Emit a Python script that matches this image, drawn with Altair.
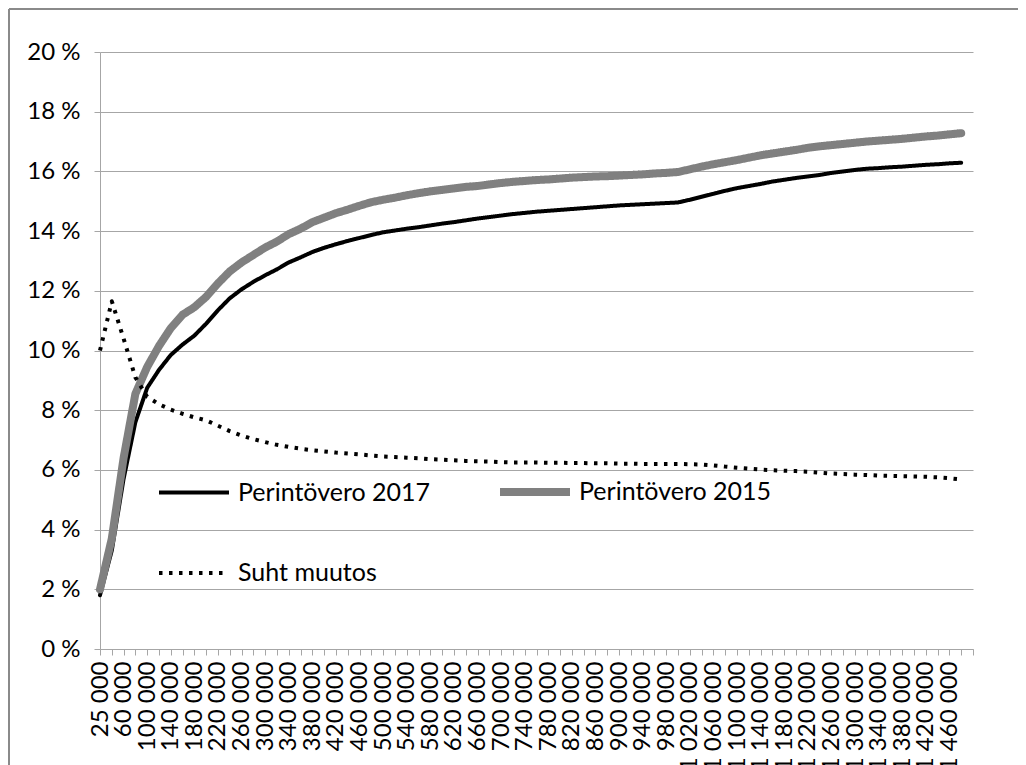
import json
import altair as alt
import pandas as pd

# x categories (inheritance amount, EUR)
amounts = [25000, 40000] + list(range(60000, 1500001, 20000))
cat_labels = [f"{a:,}".replace(",", " ") for a in amounts]
shown_labels = cat_labels[0:73:2]

series_names = ["Perintövero 2017", "Perintövero 2015", "Suht muutos"]
legend_order = ["Perintövero 2017", "Suht muutos", "Perintövero 2015"]

# values in percent, one per category (last category has no data)
vero_2017 = [1.8, 3.3, 5.7, 7.6, 8.75, 9.35, 9.85, 10.2, 10.5, 10.9,
             11.35, 11.75, 12.05, 12.3, 12.52, 12.72, 12.95, 13.12, 13.3, 13.44,
             13.56, 13.67, 13.77, 13.87, 13.96, 14.02, 14.08, 14.13, 14.19, 14.25,
             14.3, 14.36, 14.42, 14.47, 14.52, 14.57, 14.61, 14.65, 14.68, 14.71,
             14.74, 14.77, 14.8, 14.83, 14.86, 14.88, 14.9, 14.92, 14.94, 14.96,
             15.05, 15.15, 15.25, 15.35, 15.44, 15.51, 15.58, 15.66, 15.72, 15.78,
             15.83, 15.88, 15.95, 16.0, 16.05, 16.09, 16.11, 16.14, 16.16, 16.19,
             16.22, 16.24, 16.27, 16.29]

vero_2015 = [2.0, 3.7, 6.4, 8.55, 9.45, 10.15, 10.75, 11.2, 11.45, 11.8,
             12.25, 12.65, 12.95, 13.2, 13.45, 13.65, 13.9, 14.08, 14.3, 14.45,
             14.6, 14.72, 14.85, 14.97, 15.05, 15.12, 15.2, 15.27, 15.33, 15.38,
             15.43, 15.48, 15.51, 15.56, 15.61, 15.65, 15.68, 15.71, 15.73, 15.76,
             15.79, 15.81, 15.83, 15.84, 15.86, 15.88, 15.9, 15.93, 15.95, 15.98,
             16.07, 16.16, 16.24, 16.31, 16.38, 16.46, 16.54, 16.6, 16.66, 16.72,
             16.79, 16.84, 16.88, 16.92, 16.96, 17.0, 17.03, 17.06, 17.09, 17.13,
             17.17, 17.2, 17.24, 17.28]

suht_muutos = [10.0, 11.65, 10.4, 9.1, 8.45, 8.2, 8.02, 7.88, 7.76, 7.66,
               7.48, 7.3, 7.15, 7.03, 6.93, 6.84, 6.77, 6.71, 6.66, 6.62,
               6.58, 6.55, 6.52, 6.48, 6.45, 6.43, 6.41, 6.39, 6.36, 6.34,
               6.32, 6.3, 6.29, 6.28, 6.26, 6.25, 6.25, 6.25, 6.24, 6.24,
               6.23, 6.23, 6.22, 6.22, 6.21, 6.21, 6.2, 6.2, 6.2, 6.2,
               6.19, 6.18, 6.15, 6.11, 6.07, 6.04, 6.01, 5.99, 5.97, 5.96,
               5.94, 5.91, 5.88, 5.86, 5.84, 5.83, 5.81, 5.8, 5.79, 5.78,
               5.77, 5.75, 5.72, 5.68]

y_ticks = list(range(0, 21, 2))

rows = []
for name, vals in zip(series_names, [vero_2017, vero_2015, suht_muutos]):
    for i, v in enumerate(vals):
        rows.append({"amount": cat_labels[i], "series": name, "value": v, "order": i})
df = pd.DataFrame(rows)

FONT = "Lato"
GRID = "#a6a6a6"

label_expr = "indexof(" + json.dumps(shown_labels, ensure_ascii=False) + ", datum.value) >= 0 ? datum.value : ''"


def legend():
    return alt.Legend(orient="none", legendX=55, legendY=401, columns=2,
                      title=None, symbolType="stroke", symbolSize=4900,
                      labelFont=FONT, labelFontSize=25, labelColor="#000",
                      columnPadding=53, rowPadding=28, labelOffset=5,
                      padding=0, labelLimit=400)


enc = dict(
    x=alt.X("amount:O", sort=cat_labels,
            scale=alt.Scale(type="point", domain=cat_labels, padding=0),
            axis=alt.Axis(title=None, labelAngle=-90, labelExpr=label_expr,
                          labelOverlap=False, labelFont=FONT, labelFontSize=24,
                          labelColor="#000", labelPadding=6, tickSize=6,
                          tickColor=GRID, domainColor=GRID, grid=False)),
    y=alt.Y("value:Q", scale=alt.Scale(domain=[0, 20], nice=False),
            axis=alt.Axis(title=None, values=y_ticks, labelExpr="datum.value + ' %'",
                          labelFont=FONT, labelFontSize=24, labelColor="#000",
                          labelPadding=14, tickSize=6, tickColor=GRID,
                          domainColor=GRID, gridColor=GRID, grid=True)),
    color=alt.Color("series:N", scale=alt.Scale(domain=legend_order,
                                                 range=["#000000", "#000000", "#808080"]),
                    legend=legend()),
    strokeDash=alt.StrokeDash("series:N", scale=alt.Scale(domain=legend_order,
                                                           range=[[1, 0], [3.5, 6.5], [1, 0]]),
                              legend=legend()),
    strokeWidth=alt.StrokeWidth("series:N", scale=alt.Scale(type="ordinal", domain=legend_order,
                                                             range=[4, 4, 8]),
                                legend=legend()),
    order="order:Q",
)

base = alt.Chart(df)
solid = base.transform_filter(alt.datum.series != "Suht muutos").mark_line(
    strokeCap="round", strokeJoin="round").encode(**enc)
dotted = base.transform_filter(alt.datum.series == "Suht muutos").mark_line(
    strokeCap="butt", strokeJoin="round").encode(**enc)

frame_top = alt.Chart().mark_rule(color="#8a8a8a", strokeWidth=2).encode(
    x=alt.value(-91), x2=alt.value(920), y=alt.value(-43))
frame_left = alt.Chart().mark_rule(color="#8a8a8a", strokeWidth=2).encode(
    x=alt.value(-91), y=alt.value(-43), y2=alt.value(720))

chart = alt.layer(frame_top, frame_left, solid, dotted).properties(
    width=873, height=597,
    autosize=alt.AutoSizeParams(type="none"),
    padding={"left": 92, "top": 44, "right": 45, "bottom": 116},
).configure_view(stroke=None)

chart.save("out.html", embed_options={"renderer": "svg", "actions": False})
